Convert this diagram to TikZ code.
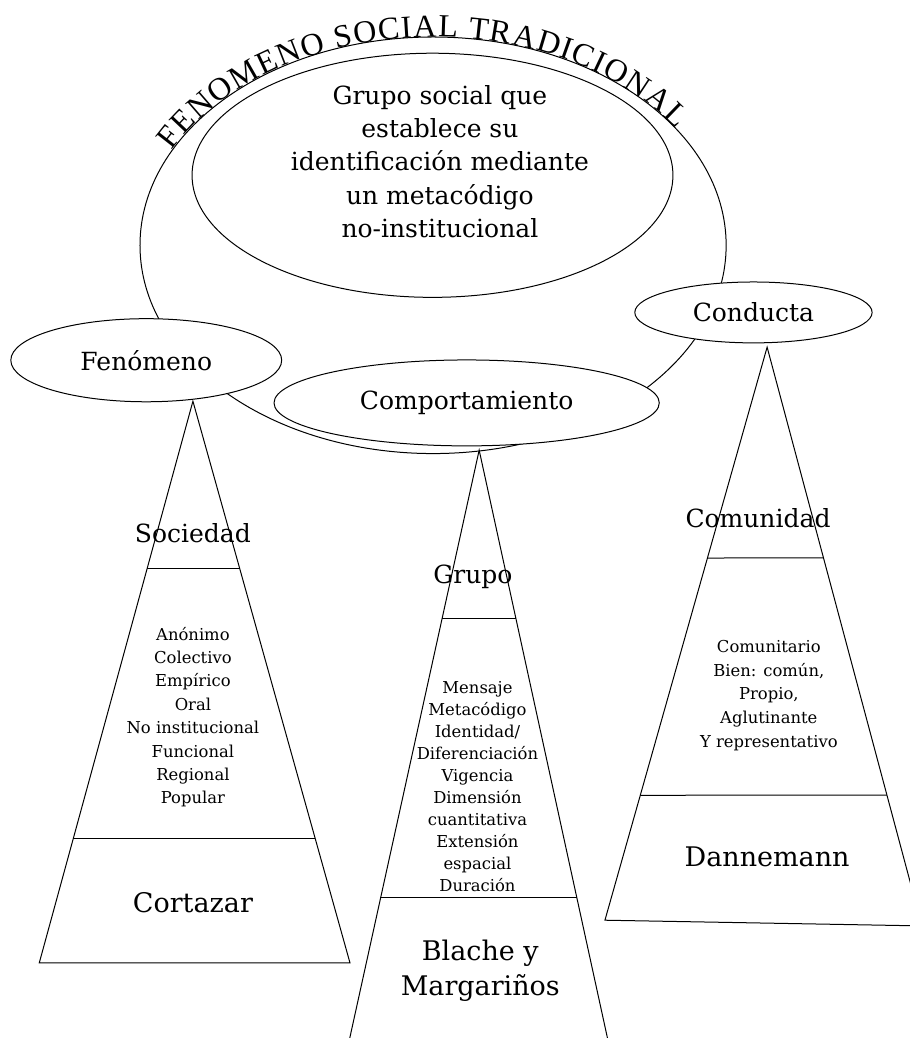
\documentclass[tikz,border=0pt]{standalone}
\usepackage{fontspec}
\setmainfont{DejaVu Serif}
\newfontfamily\titulofont{Liberation Serif}
\usetikzlibrary{shapes.geometric,calc,decorations.text}

\begin{document}
\begin{tikzpicture}[line width=0.5pt,
  oval/.style={draw,ellipse,fill=white,inner sep=0pt},
  etiqueta/.style={font=\fontsize{12.5}{15}\selectfont},
  autor/.style={font=\fontsize{13.5}{17.5}\selectfont,align=center},
  rasgos/.style={font=\fontsize{8.2}{#1}\selectfont,align=center},
  rasgos/.default=11.7]
  \useasboundingbox (0,0) rectangle (15.99,-18.24);
  \clip (0,0) rectangle (15.99,-18.24);

  \draw (7.61,-4.31) ellipse [x radius=5.15,y radius=3.66];
  \path[decorate,decoration={text along path,text align=fit to path,
      text={|\titulofont\fontsize{16}{18}\selectfont|FENOMENO SOCIAL TRADICIONAL}}]
    (7.61,-4.31) ++(153:5.15 and 3.66) arc[start angle=153,end angle=34,x radius=5.15,y radius=3.66];
  \node[oval,minimum width=8.45cm,minimum height=4.29cm] (nucleo) at (7.60,-3.08) {};
  \node[align=center,font=\fontsize{12.5}{16.7}\selectfont] (definicion) at (7.73,-2.84)
    {Grupo social que\\establece su\\identificación mediante\\un metacódigo\\no-institucional};

  \coordinate (sa) at (3.39,-7.05);
  \coordinate (sbl) at (0.69,-16.92);
  \coordinate (sbr) at (6.15,-16.92);
  \draw (sa) -- (sbl) -- (sbr) -- cycle;
  \draw ($(sa)!0.297!(sbl)$) -- ($(sa)!0.297!(sbr)$);
  \draw ($(sa)!0.779!(sbl)$) -- ($(sa)!0.779!(sbr)$);
  \node[etiqueta] (sociedad) at (3.39,-9.37) {Sociedad};
  \node[rasgos] (rasgossoc) at (3.39,-12.60)
    {Anónimo\\Colectivo\\Empírico\\Oral\\No institucional\\Funcional\\Regional\\Popular};
  \node[autor] (cortazar) at (3.39,-15.87) {Cortazar};

  \coordinate (ga) at (8.42,-7.91);
  \coordinate (gbl) at (6.10,-18.45);
  \coordinate (gbr) at (10.72,-18.45);
  \draw (gbl) -- (ga) -- (gbr);
  \draw ($(ga)!0.28!(gbl)$) -- ($(ga)!0.28!(gbr)$);
  \draw ($(ga)!0.745!(gbl)$) -- ($(ga)!0.745!(gbr)$);
  \node[etiqueta] (grupo) at (8.31,-10.14) {Grupo};
  \node[rasgos=11] (rasgosgru) at (8.39,-13.83)
    {Mensaje\\Metacódigo\\Identidad/\\Diferenciación\\Vigencia\\Dimensión\\cuantitativa\\Extensión\\espacial\\Duración};
  \node[autor] (blache) at (8.44,-17.06) {Blache y\\Margariños};

  \coordinate (ca) at (13.48,-6.10);
  \coordinate (cbl) at (10.63,-16.17);
  \coordinate (cbr) at (16.20,-16.27);
  \draw (ca) -- (cbl) -- (cbr) -- cycle;
  \draw ($(ca)!0.368!(cbl)$) -- ($(ca)!0.364!(cbr)$);
  \draw ($(ca)!0.782!(cbl)$) -- ($(ca)!0.774!(cbr)$);
  \node[etiqueta] (comunidad) at (13.32,-9.10) {Comunidad};
  \node[rasgos=11.9] (rasgoscom) at (13.51,-12.22)
    {Comunitario\\Bien: común,\\Propio,\\Aglutinante\\Y representativo};
  \node[autor] (dannemann) at (13.48,-15.06) {Dannemann};

  \node[oval,etiqueta,minimum width=4.76cm,minimum height=1.46cm] (fenomeno) at (2.57,-6.33) {Fenómeno};
  \node[oval,etiqueta,minimum width=6.77cm,minimum height=1.51cm] (comport) at (8.20,-7.08) {Comportamiento};
  \node[oval,etiqueta,minimum width=4.17cm,minimum height=1.07cm] (conducta) at (13.24,-5.49) {Conducta};
\end{tikzpicture}
\end{document}
